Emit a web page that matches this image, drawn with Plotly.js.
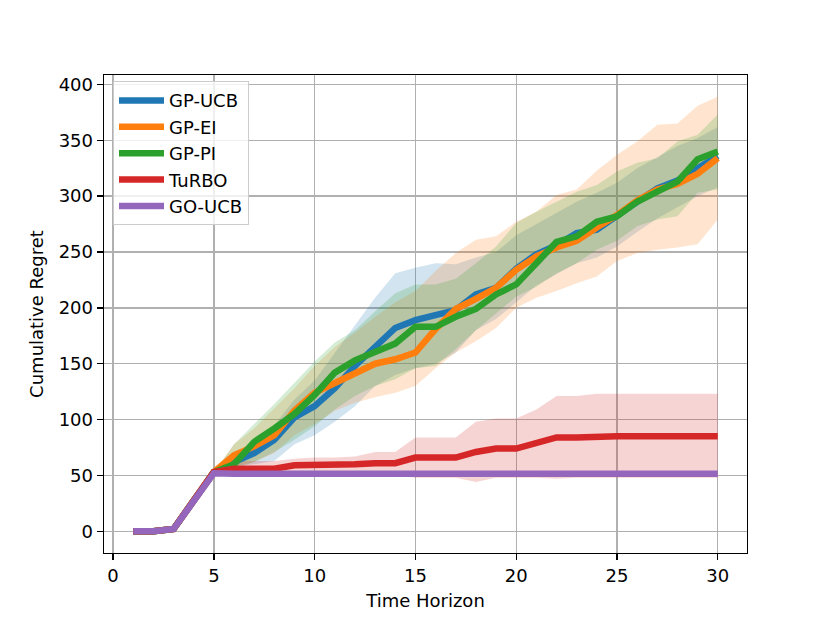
<!DOCTYPE html>
<html>
<head>
<meta charset="utf-8">
<script src="https://cdn.plot.ly/plotly-3.0.1.min.js"></script>
<style>html,body{margin:0;padding:0;background:#fff;} #chart{width:830px;height:623px;}</style>
</head>
<body>
<div id="chart"></div>
<script>
const timeHorizon = [1,2,3,4,5,6,7,8,9,10,11,12,13,14,15,16,17,18,19,20,21,22,23,24,25,26,27,28,29,30];

const names = ["GP-UCB","GP-EI","GP-PI","TuRBO","GO-UCB"];
const colors = ["#1f77b4","#ff7f0e","#2ca02c","#d62728","#9467bd"];
const fills = ["rgba(31,119,180,0.2)","rgba(255,127,14,0.2)","rgba(44,160,44,0.2)","rgba(214,39,40,0.2)","rgba(148,103,189,0.2)"];

const gpUcbMean  = [0,0,2,27,53,62,70,82,102,112,128,148,166,182,189,194,198,212,218,235,248,256,267,270,283,295,307,314,325,336];
const gpUcbUpper = [0,0,2,27,53,68,80,95,118,135,160,185,209,231,236,240,239,245,250,265,275,285,295,303,312,325,335,345,352,362];
const gpUcbLower = [0,0,2,27,53,58,60,63,78,86,98,112,130,140,146,150,160,180,190,205,220,230,240,245,255,268,280,290,300,308];

const gpEiMean  = [0,0,2,27,53,68,76,86,108,124,133,142,150,154,160,181,199,208,218,234,246,254,260,272,283,296,306,311,320,334];
const gpEiUpper = [0,0,2,27,53,78,92,110,128,148,165,178,192,205,215,233,249,261,264,277,286,301,306,323,337,349,364,365,381,389];
const gpEiLower = [0,0,2,27,53,58,62,70,86,96,108,115,120,124,130,146,160,170,182,200,209,215,222,228,242,249,252,254,257,279];

const gpPiMean  = [0,0,2,27,53,60,80,92,105,122,142,153,160,168,183,183,192,199,212,221,240,259,264,277,282,295,304,313,333,340];
const gpPiUpper = [0,0,2,27,53,78,96,114,133,152,169,180,197,213,221,221,226,240,255,276,286,295,304,310,322,330,334,349,355,373];
const gpPiLower = [0,0,2,27,53,56,62,71,82,94,109,121,130,136,146,148,163,180,195,210,219,231,240,252,260,273,279,282,303,306];

const turboMean  = [0,0,2,27,53,56,56,56,59,59,59,60,61,61,66,66,66,71,74,74,79,84,84,85,85,85,85,85,85,85];
const turboUpper = [0,0,2,27,53,63,63,63,65,66,66,67,71,71,84,84,84,98,101,101,109,121,121,123,123,123,123,123,123,123];
const turboLower = [0,0,2,27,52,51,51,51,51,51,51,50,50,50,48,48,48,44,48,48,48,47,48,48,48,48,48,48,48,48];

const goUcbMean  = [0,0,2,27,52,51.5,51.5,51.5,51.5,51.5,51.5,51.5,51.5,51.5,51.5,51.5,51.5,51.5,51.5,51.5,51.5,51.5,51.5,51.5,51.5,51.5,51.5,51.5,51.5,51.5];
const goUcbUpper = goUcbMean;
const goUcbLower = goUcbMean;

const means  = [gpUcbMean, gpEiMean, gpPiMean, turboMean, goUcbMean];
const uppers = [gpUcbUpper, gpEiUpper, gpPiUpper, turboUpper, goUcbUpper];
const lowers = [gpUcbLower, gpEiLower, gpPiLower, turboLower, goUcbLower];

const traces = [];
for (let i = 0; i < names.length; i++) {
  traces.push({x: timeHorizon, y: lowers[i], mode: 'lines', line: {width: 0, color: colors[i]}, showlegend: false, hoverinfo: 'skip'});
  traces.push({x: timeHorizon, y: uppers[i], mode: 'lines', line: {width: 0, color: colors[i]}, fill: 'tonexty', fillcolor: fills[i], showlegend: false, hoverinfo: 'skip'});
}
for (let i = 0; i < names.length; i++) {
  traces.push({x: timeHorizon, y: means[i], mode: 'lines', name: names[i], line: {width: 6.5, color: colors[i]}});
}

const FS = 18;
const axisCommon = {
  showgrid: true, gridcolor: '#b0b0b0', gridwidth: 1.4,
  zeroline: false, showline: true, linecolor: '#000', linewidth: 1.4, mirror: true,
  ticks: 'outside', ticklen: 6, tickwidth: 1.4, tickcolor: '#000',
  tickfont: {family: 'DejaVu Sans', size: FS, color: '#000'}
};

const layout = {
  width: 830, height: 623,
  margin: {l: 104, r: 83, t: 75, b: 70},
  paper_bgcolor: '#fff', plot_bgcolor: '#fff',
  font: {family: 'DejaVu Sans', size: FS, color: '#000'},
  xaxis: Object.assign({}, axisCommon, {
    range: [-0.45, 31.45], tickvals: [0,5,10,15,20,25,30],
    title: {text: 'Time Horizon', font: {family: 'DejaVu Sans', size: FS, color: '#000'}, standoff: 9}
  }),
  yaxis: Object.assign({}, axisCommon, {
    range: [-19.45, 408.45], tickvals: [0,50,100,150,200,250,300,350,400],
    title: {text: 'Cumulative Regret', font: {family: 'DejaVu Sans', size: FS, color: '#000'}, standoff: 10}
  }),
  legend: {
    x: 0.014, y: 0.987, xanchor: 'left', yanchor: 'top',
    traceorder: 'normal', itemwidth: 45,
    bgcolor: 'rgba(255,255,255,0.8)', bordercolor: '#cccccc', borderwidth: 1,
    font: {family: 'DejaVu Sans', size: FS, color: '#000'},
    tracegroupgap: 0
  },
  showlegend: true
};

Plotly.newPlot('chart', traces, layout, {displayModeBar: false, staticPlot: true});
</script>
</body>
</html>
